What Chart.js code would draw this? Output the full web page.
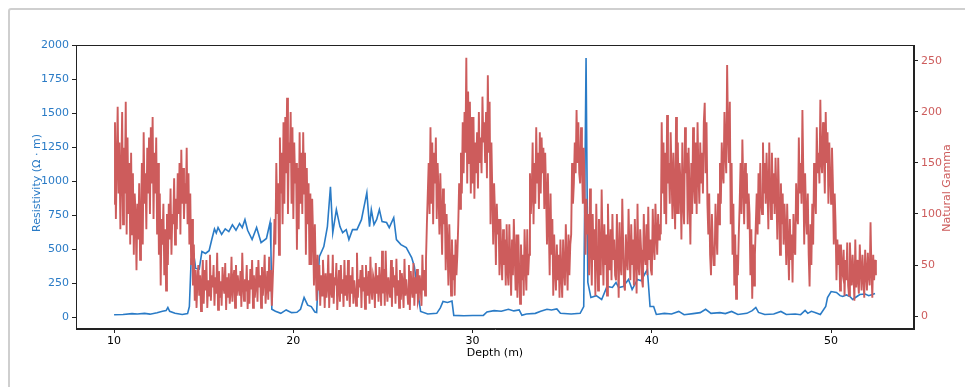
<!DOCTYPE html>
<html>
<head>
<meta charset="utf-8">
<script src="https://cdn.jsdelivr.net/npm/chart.js@4.4.1/dist/chart.umd.min.js"></script>
<style>
  html, body { margin: 0; padding: 0; background: #fff; }
  #wrap { position: relative; width: 965px; height: 387px; overflow: hidden; }
  #frame { position: absolute; left: 8px; top: 8px; width: 1000px; height: 420px;
           border: 2px solid #cfcfcf; border-radius: 3px; box-sizing: border-box; }
  #chart { position: absolute; left: 0; top: 0; }
</style>
</head>
<body>
<div id="wrap">
  <div id="frame"></div>
  <canvas id="chart" width="965" height="387"></canvas>
</div>
<script>
'use strict';

// natural gamma, sampled every 0.05 m from 10.0 m (one row per half metre)
const gammaStart = 10;
const gammaStep = 0.05;
const gammaValues = [
  110, 190, 95, 150, 205, 120, 170, 85, 140, 200,   // 10.0
  90, 165, 120, 210, 80, 175, 100, 150, 70, 160,
  80, 140, 60, 120, 100, 45, 110, 75, 130, 55,      // 11.0
  90, 150, 70, 180, 110, 140, 85, 165, 120, 175,
  100, 185, 130, 195, 95, 160, 120, 175, 80, 150,   // 12.0
  60, 120, 30, 95, 70, 110, 40, 85, 25, 100,
  50, 110, 75, 125, 60, 100, 90, 135, 70, 115,      // 13.0
  85, 140, 100, 150, 80, 163, 110, 145, 95, 130,
  110, 165, 90, 140, 70, 120, 50, 95, 30, 70,       // 14.0
  15, 45, 8, 35, 50, 20, 40, 5, 30, 55,
  12, 45, 25, 55, 8, 35, 20, 60, 15, 40,            // 15.0
  28, 50, 10, 38, 22, 62, 6, 44, 18, 34,
  10, 48, 30, 22, 52, 6, 38, 18, 42, 12,            // 16.0
  24, 58, 14, 36, 45, 8, 50, 20, 40, 28,
  20, 44, 9, 62, 30, 15, 36, 24, 50, 7,             // 17.0
  35, 12, 46, 26, 55, 8, 40, 18, 30, 48,
  14, 55, 28, 40, 8, 48, 20, 35, 60, 12,            // 18.0
  30, 44, 16, 58, 25, 45, 10, 35, 60, 95,
  70, 150, 100, 130, 60, 175, 120, 160, 90, 190,    // 19.0
  110, 195, 140, 214, 100, 170, 150, 200, 110, 185,
  95, 170, 130, 150, 65, 145, 85, 180, 110, 160,    // 20.0
  100, 180, 120, 160, 60, 145, 90, 130, 50, 120,
  50, 115, 80, 30, 90, 45, 15, 60, 25, 50,          // 21.0
  10, 40, 20, 55, 35, 8, 42, 18, 30, 60,
  8, 42, 25, 18, 60, 12, 38, 30, 52, 6,             // 22.0
  28, 45, 14, 50, 22, 36, 9, 55, 20, 40,
  15, 55, 30, 9, 40, 22, 48, 12, 35, 25,            // 23.0
  10, 62, 18, 36, 28, 45, 8, 50, 24, 38,
  7, 50, 30, 20, 44, 12, 58, 26, 16, 40,            // 24.0
  35, 8, 52, 22, 40, 14, 48, 30, 10, 64,
  22, 46, 10, 64, 30, 14, 38, 26, 18, 55,           // 25.0
  9, 48, 28, 40, 12, 56, 20, 35, 8, 45,
  16, 42, 30, 8, 56, 20, 36, 25, 12, 50,            // 26.0
  6, 44, 28, 18, 52, 10, 38, 22, 46, 14,
  18, 40, 30, 10, 60, 25, 45, 20, 55, 90,           // 27.0
  120, 150, 100, 185, 110, 170, 90, 160, 130, 175,
  95, 150, 120, 80, 140, 100, 60, 125, 90, 110,     // 28.0
  45, 100, 70, 30, 90, 55, 20, 75, 35, 60,
  20, 75, 40, 60, 90, 130, 105, 160, 120, 190,      // 29.0
  140, 200, 160, 253, 130, 220, 150, 210, 120, 195,
  130, 195, 115, 170, 140, 180, 125, 200, 150, 175, // 30.0
  140, 215, 170, 190, 150, 200, 135, 236, 160, 210,
  90, 170, 120, 70, 130, 100, 50, 110, 80, 95,      // 31.0
  40, 95, 60, 35, 85, 50, 75, 30, 90, 45,
  30, 90, 55, 20, 75, 40, 95, 60, 25, 80,           // 32.0
  18, 80, 45, 12, 70, 35, 60, 20, 85, 50,
  25, 85, 40, 60, 140, 100, 120, 170, 90, 150,      // 33.0
  110, 185, 130, 160, 105, 180, 120, 175, 140, 165,
  105, 160, 120, 70, 140, 90, 40, 120, 60, 95,      // 34.0
  20, 80, 45, 25, 70, 35, 60, 18, 75, 40,
  18, 75, 45, 30, 90, 55, 25, 80, 40, 70,           // 35.0
  80, 150, 110, 130, 170, 140, 202, 150, 190, 140,
  130, 185, 150, 110, 165, 120, 60, 115, 80, 100,   // 36.0
  40, 125, 70, 30, 100, 55, 85, 20, 110, 60,
  25, 95, 60, 40, 124, 70, 30, 90, 50, 80,          // 37.0
  20, 110, 65, 45, 85, 35, 100, 55, 75, 40,
  35, 100, 60, 18, 92, 50, 40, 115, 70, 30,         // 38.0
  25, 80, 55, 45, 105, 65, 35, 90, 50, 75,
  30, 95, 60, 22, 110, 50, 40, 85, 65, 35,          // 39.0
  28, 100, 60, 50, 90, 40, 107, 55, 75, 45,
  40, 105, 70, 55, 110, 80, 60, 100, 75, 90,        // 40.0
  80, 190, 120, 170, 100, 160, 90, 197, 130, 150,
  110, 180, 140, 95, 160, 120, 85, 195, 100, 170,   // 41.0
  100, 150, 130, 75, 170, 110, 90, 185, 140, 160,
  90, 165, 120, 70, 150, 100, 185, 130, 110, 170,   // 42.0
  100, 190, 140, 110, 170, 130, 160, 120, 190, 209,
  140, 190, 110, 80, 120, 60, 40, 100, 70, 50,      // 43.0
  50, 110, 80, 60, 120, 90, 150, 110, 170, 140,
  130, 200, 160, 140, 246, 180, 150, 210, 90, 150,  // 44.0
  60, 110, 30, 80, 17, 60, 40, 80, 110, 150,
  100, 173, 130, 90, 150, 110, 140, 85, 120, 100,   // 45.0
  40, 85, 17, 70, 30, 60, 90, 120, 80, 140,
  90, 150, 110, 100, 170, 120, 150, 110, 160, 125,  // 46.0
  85, 170, 130, 95, 160, 110, 140, 100, 155, 120,
  75, 155, 110, 60, 130, 90, 120, 70, 110, 85,      // 47.0
  50, 110, 70, 35, 95, 55, 80, 33, 100, 65,
  60, 130, 100, 90, 175, 120, 150, 110, 202, 140,   // 48.0
  70, 140, 100, 80, 120, 60, 29, 90, 50, 110,
  70, 150, 120, 100, 185, 140, 160, 130, 212, 150,  // 49.0
  140, 190, 160, 120, 200, 150, 180, 110, 170, 140,
  110, 165, 130, 70, 120, 90, 35, 75, 50, 70,       // 50.0
  25, 70, 45, 40, 65, 20, 55, 35, 72, 30,
  20, 72, 45, 30, 60, 40, 15, 75, 28, 55,           // 51.0
  35, 22, 70, 45, 25, 60, 38, 18, 65, 42,
  25, 62, 40, 30, 92, 45, 18, 60, 35, 55,           // 52.0
  40
];

// resistivity, read at irregular depths
const resDepth = [
  10.0, 10.5, 11.0, 11.3, 11.7, 12.0, 12.4, 12.7, 12.9, 13.0, 13.1, 13.4, 13.8, 14.1,
  14.2, 14.3, 14.45, 14.55, 14.75, 14.9, 15.1, 15.3, 15.45, 15.6, 15.7, 15.8, 16.0,
  16.2, 16.4, 16.6, 16.8, 17.0, 17.15, 17.3, 17.45, 17.7, 17.95, 18.2, 18.5, 18.7,
  18.75, 18.8, 19.0, 19.3, 19.6, 19.9, 20.2, 20.4, 20.6, 20.8, 21.0, 21.2, 21.3,
  21.45, 21.7, 21.9, 22.07, 22.2, 22.4, 22.6, 22.75, 22.95, 23.1, 23.3, 23.55, 23.8,
  24.1, 24.25, 24.35, 24.5, 24.65, 24.8, 24.95, 25.2, 25.35, 25.6, 25.75, 26.0, 26.3,
  26.6, 26.75, 26.9, 27.1, 27.5, 28.0, 28.2, 28.35, 28.6, 28.85, 28.95, 29.5, 30.0,
  30.6, 30.8, 31.2, 31.6, 32.0, 32.3, 32.6, 32.75, 33.0, 33.5, 33.8, 34.15, 34.4,
  34.7, 34.9, 35.5, 36.0, 36.2, 36.33, 36.43, 36.6, 36.9, 37.2, 37.5, 37.8, 38.0,
  38.15, 38.4, 38.7, 38.9, 39.2, 39.4, 39.65, 39.75, 39.9, 40.1, 40.25, 40.7, 41.1,
  41.5, 41.8, 42.3, 42.7, 43.0, 43.3, 43.8, 44.1, 44.45, 44.8, 45.3, 45.6, 45.8,
  45.95, 46.3, 46.8, 47.2, 47.5, 48.0, 48.3, 48.55, 48.7, 48.9, 49.1, 49.4, 49.7,
  49.8, 50.0, 50.3, 50.5, 50.65, 50.85, 51.05, 51.2, 51.4, 51.6, 51.9, 52.1, 52.3, 52.45
];
const resValue = [
  20, 22, 28, 25, 30, 24, 35, 45, 50, 73, 45, 30, 22, 28,
  80, 430, 460, 360, 355, 484, 470, 490, 572, 650, 620, 660, 610,
  650, 630, 680, 640, 690, 660, 718, 640, 572, 660, 550, 580, 697,
  500, 60, 45, 30, 55, 35, 38, 60, 146, 90, 80, 40, 37,
  447, 520, 667, 960, 623, 792, 667, 623, 645, 572, 645, 645, 718,
  916, 667, 792, 682, 720, 792, 704, 697, 660, 733, 572, 535, 513,
  440, 374, 227, 44, 25, 30, 70, 117, 110, 120, 15, 12, 14,
  15, 40, 50, 45, 60, 48, 55, 15, 25, 30, 45, 60, 55,
  62, 30, 25, 30, 80, 1906, 257, 146, 160, 132, 227, 220, 257,
  220, 227, 279, 205, 279, 270, 330, 352, 80, 80, 22, 30, 25,
  44, 20, 28, 35, 60, 30, 35, 28, 44, 22, 30, 50, 73,
  37, 22, 25, 44, 22, 25, 20, 51, 30, 45, 37, 22, 80,
  146, 190, 183, 160, 154, 165, 154, 132, 150, 168, 172, 160, 168, 175
];

const depthTicks = [10, 20, 30, 40, 50];
const resTicks = [0, 250, 500, 750, 1000, 1250, 1500, 1750, 2000];
const gammaTicks = [0, 50, 100, 150, 200, 250];

const blue = '#2a7bc6';
const red = '#cd5c5c';
const font = { family: 'DejaVu Sans', size: 11 };

const gammaData = gammaValues.map((g, i) => ({ x: +(gammaStart + i * gammaStep).toFixed(2), y: g }));
const resData = resDepth.map((d, i) => ({ x: d, y: resValue[i] }));

const setTicks = list => scale => { scale.ticks = list.map(v => ({ value: v })); };

const frameAndTitles = {
  id: 'frameAndTitles',
  afterDraw(chart) {
    const { ctx, chartArea: a } = chart;
    ctx.save();
    ctx.strokeStyle = '#222';
    ctx.lineWidth = 1;
    ctx.strokeRect(a.left + 0.5, a.top + 0.5, a.right - a.left - 1, a.bottom - a.top - 1);

    ctx.font = '11px "DejaVu Sans"';
    ctx.textAlign = 'center';
    ctx.textBaseline = 'middle';
    ctx.fillStyle = '#000';
    ctx.fillText('Depth (m)', (a.left + a.right) / 2, 353);

    ctx.fillStyle = blue;
    ctx.translate(37, 183);
    ctx.rotate(-Math.PI / 2);
    ctx.fillText('Resistivity (Ω · m)', 0, 0);
    ctx.restore();

    ctx.save();
    ctx.font = '11px "DejaVu Sans"';
    ctx.textAlign = 'center';
    ctx.textBaseline = 'middle';
    ctx.fillStyle = red;
    ctx.translate(947, 188);
    ctx.rotate(-Math.PI / 2);
    ctx.fillText('Natural Gamma', 0, 0);
    ctx.restore();
  }
};

const config = {
  type: 'line',
  data: {
    datasets: [{
      label: 'Resistivity',
      data: resData,
      yAxisID: 'yRes',
      borderColor: blue,
      borderWidth: 1.6,
      pointRadius: 0,
      tension: 0,
      fill: false,
      order: 1
    }, {
      label: 'Natural Gamma',
      data: gammaData,
      yAxisID: 'yGam',
      borderColor: red,
      borderWidth: 1.9,
      pointRadius: 0,
      tension: 0,
      fill: false,
      order: 0
    }]
  },
  options: {
    responsive: false,
    animation: false,
    devicePixelRatio: 1,
    layout: { padding: { top: 45, left: 0, right: 0, bottom: 0 } },
    plugins: { legend: { display: false }, tooltip: { enabled: false } },
    scales: {
      x: {
        type: 'linear',
        min: 7.875,
        max: 54.625,
        afterBuildTicks: setTicks(depthTicks),
        afterFit: s => { s.height = 58; },
        ticks: { color: '#000', font, padding: 2, maxRotation: 0, callback: v => String(v) },
        grid: { drawOnChartArea: false, tickLength: 4, color: '#222' },
        border: { color: '#222' }
      },
      yRes: {
        type: 'linear',
        position: 'left',
        min: -85,
        max: 2001,
        afterBuildTicks: setTicks(resTicks),
        afterFit: s => { s.width = 76; },
        ticks: { color: blue, font, padding: 3, callback: v => String(v) },
        grid: { drawOnChartArea: false, tickLength: 4, color: '#222' },
        border: { color: '#222' }
      },
      yGam: {
        type: 'linear',
        position: 'right',
        min: -12.7,
        max: 265.6,
        afterBuildTicks: setTicks(gammaTicks),
        afterFit: s => { s.width = 51; },
        ticks: { color: red, font, padding: 3, callback: v => String(v) },
        grid: { drawOnChartArea: false, tickLength: 4, color: '#222' },
        border: { color: '#222' }
      }
    }
  },
  plugins: [frameAndTitles]
};

const chart = new Chart(document.getElementById('chart').getContext('2d'), config);
</script>
</body>
</html>
